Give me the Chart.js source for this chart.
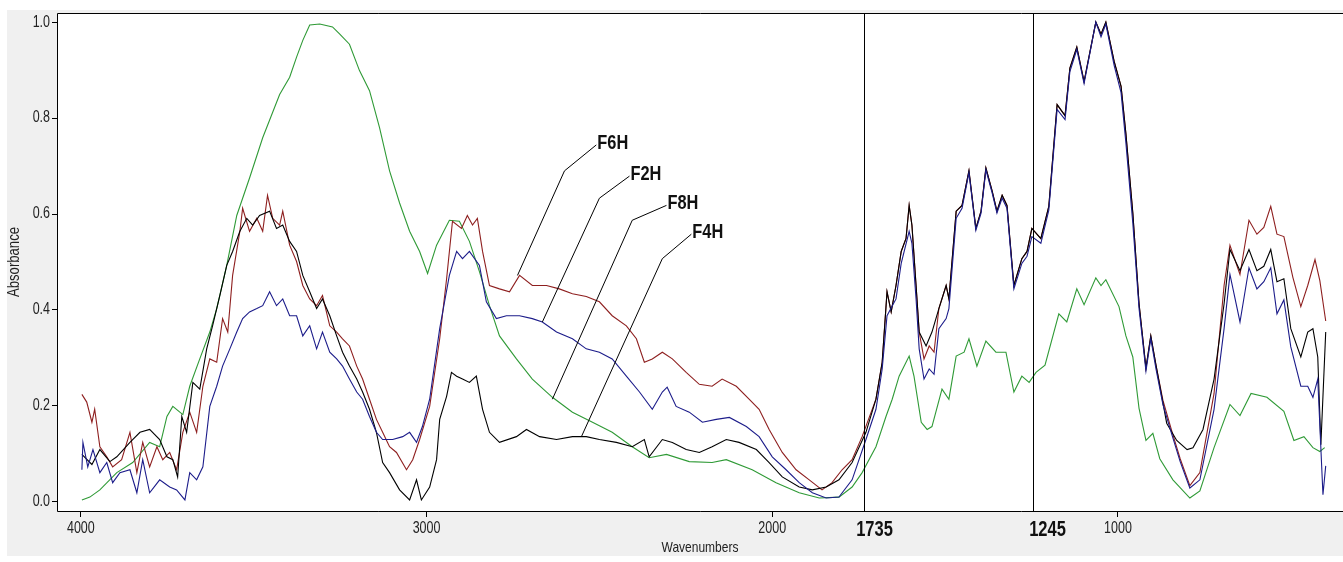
<!DOCTYPE html>
<html>
<head>
<meta charset="utf-8">
<title>FTIR spectra</title>
<script src="https://cdn.jsdelivr.net/npm/chart.js@4.4.1/dist/chart.umd.min.js"></script>
<style>
  html, body { margin: 0; padding: 0; background: #fff; }
  #wrap { width: 1343px; height: 562px; }
</style>
</head>
<body>
<div id="wrap"><canvas id="spectra" width="1343" height="562"></canvas></div>
<script>
// readings taken off the spectra: [wavenumber, absorbance]
var f2h = [[3997,0.067],[3994,0.124],[3980,0.073],[3965,0.109],[3945,0.061],[3925,0.082],[3908,0.040],[3887,0.061],[3858,0.067],[3838,0.019],[3821,0.088],[3801,0.019],[3772,0.046],[3743,0.031],[3723,0.025],[3699,0.004],[3685,0.061],[3665,0.046],[3647,0.073],[3627,0.199],[3607,0.241],[3590,0.283],[3569,0.319],[3549,0.354],[3532,0.382],[3512,0.396],[3491,0.403],[3474,0.409],[3454,0.438],[3434,0.409],[3416,0.423],[3396,0.388],[3376,0.388],[3358,0.346],[3338,0.367],[3318,0.319],[3301,0.354],[3280,0.312],[3260,0.298],[3243,0.283],[3223,0.256],[3202,0.229],[3185,0.214],[3165,0.178],[3145,0.145],[3127,0.130],[3098,0.130],[3069,0.136],[3049,0.145],[3029,0.124],[3012,0.157],[2991,0.214],[2962,0.361],[2934,0.472],[2913,0.522],[2896,0.507],[2876,0.522],[2847,0.493],[2827,0.417],[2798,0.382],[2769,0.388],[2731,0.388],[2694,0.382],[2665,0.375],[2624,0.354],[2578,0.340],[2538,0.319],[2500,0.312],[2463,0.298],[2422,0.262],[2384,0.229],[2347,0.193],[2318,0.229],[2304,0.239],[2278,0.199],[2240,0.187],[2202,0.166],[2162,0.172],[2124,0.176],[2075,0.157],[2038,0.136],[2000,0.094],[1960,0.067],[1922,0.040],[1884,0.019],[1844,0.008],[1807,0.010],[1769,0.046],[1729,0.130],[1700,0.193],[1682,0.277],[1668,0.388],[1642,0.423],[1627,0.497],[1604,0.564],[1596,0.539],[1584,0.423],[1575,0.319],[1561,0.256],[1546,0.277],[1532,0.266],[1518,0.361],[1497,0.382],[1489,0.403],[1468,0.591],[1451,0.612],[1431,0.686],[1411,0.566],[1396,0.602],[1382,0.692],[1364,0.644],[1350,0.602],[1335,0.633],[1321,0.612],[1301,0.444],[1278,0.497],[1263,0.512],[1249,0.553],[1223,0.539],[1200,0.608],[1176,0.818],[1153,0.797],[1139,0.897],[1119,0.943],[1098,0.872],[1064,1.000],[1049,0.969],[1035,0.996],[1011,0.910],[991,0.853],[977,0.748],[957,0.581],[939,0.403],[919,0.273],[905,0.340],[890,0.277],[870,0.203],[844,0.140],[820,0.084],[792,0.029],[763,0.046],[722,0.193],[693,0.361],[676,0.474],[647,0.375],[621,0.488],[598,0.444],[578,0.459],[558,0.488],[540,0.392],[520,0.421],[500,0.323],[471,0.241],[451,0.241],[436,0.218],[422,0.256],[407,0.015],[399,0.075]];

var f4h = [[3997,0.099],[3968,0.078],[3945,0.109],[3916,0.084],[3896,0.094],[3858,0.124],[3829,0.145],[3801,0.151],[3772,0.130],[3751,0.094],[3734,0.088],[3720,0.052],[3708,0.178],[3694,0.145],[3676,0.249],[3656,0.235],[3636,0.319],[3619,0.367],[3598,0.430],[3578,0.493],[3561,0.522],[3540,0.564],[3520,0.591],[3503,0.577],[3483,0.597],[3454,0.606],[3434,0.570],[3416,0.577],[3396,0.543],[3376,0.522],[3358,0.472],[3338,0.438],[3318,0.403],[3301,0.423],[3280,0.388],[3260,0.346],[3243,0.312],[3223,0.283],[3202,0.256],[3185,0.229],[3165,0.193],[3145,0.145],[3127,0.082],[3107,0.061],[3078,0.025],[3049,0.004],[3029,0.046],[3015,0.004],[2991,0.031],[2971,0.088],[2962,0.172],[2942,0.220],[2928,0.270],[2913,0.262],[2896,0.256],[2876,0.249],[2856,0.262],[2838,0.193],[2818,0.145],[2789,0.124],[2740,0.136],[2711,0.151],[2673,0.136],[2624,0.130],[2578,0.136],[2538,0.136],[2500,0.130],[2451,0.124],[2405,0.115],[2370,0.130],[2356,0.094],[2318,0.130],[2289,0.124],[2249,0.109],[2211,0.103],[2174,0.115],[2133,0.130],[2096,0.124],[2046,0.109],[2009,0.082],[1971,0.052],[1922,0.031],[1884,0.025],[1844,0.031],[1807,0.046],[1769,0.082],[1729,0.145],[1700,0.214],[1682,0.291],[1668,0.438],[1656,0.396],[1642,0.451],[1627,0.522],[1613,0.549],[1604,0.618],[1596,0.577],[1584,0.451],[1575,0.354],[1555,0.325],[1538,0.354],[1518,0.403],[1497,0.451],[1489,0.423],[1468,0.606],[1451,0.618],[1431,0.690],[1411,0.570],[1396,0.606],[1382,0.696],[1364,0.648],[1350,0.606],[1335,0.639],[1321,0.618],[1301,0.451],[1278,0.507],[1263,0.522],[1249,0.570],[1223,0.549],[1200,0.616],[1176,0.828],[1153,0.805],[1139,0.904],[1119,0.948],[1098,0.876],[1064,1.000],[1049,0.975],[1035,1.000],[1011,0.918],[991,0.866],[977,0.767],[957,0.602],[939,0.413],[919,0.279],[905,0.346],[890,0.285],[859,0.164],[830,0.128],[800,0.109],[783,0.113],[754,0.151],[722,0.256],[693,0.413],[676,0.526],[647,0.482],[621,0.526],[598,0.482],[578,0.491],[558,0.526],[540,0.459],[520,0.465],[500,0.361],[471,0.302],[451,0.354],[436,0.361],[422,0.302],[413,0.119],[399,0.354]];

var f6h = [[3997,0.224],[3983,0.208],[3968,0.166],[3960,0.193],[3945,0.115],[3925,0.094],[3908,0.073],[3882,0.088],[3858,0.145],[3838,0.061],[3821,0.124],[3801,0.073],[3780,0.115],[3763,0.088],[3743,0.103],[3723,0.067],[3705,0.145],[3685,0.187],[3665,0.145],[3647,0.241],[3627,0.298],[3607,0.291],[3590,0.382],[3575,0.354],[3561,0.472],[3540,0.564],[3532,0.612],[3512,0.564],[3491,0.591],[3474,0.564],[3460,0.639],[3445,0.591],[3425,0.577],[3416,0.606],[3396,0.535],[3376,0.501],[3358,0.451],[3338,0.423],[3318,0.409],[3301,0.430],[3280,0.367],[3260,0.354],[3243,0.340],[3223,0.325],[3202,0.283],[3185,0.256],[3165,0.214],[3145,0.172],[3127,0.145],[3107,0.115],[3087,0.103],[3058,0.067],[3040,0.088],[3020,0.130],[2991,0.199],[2962,0.340],[2942,0.465],[2925,0.585],[2899,0.570],[2882,0.597],[2867,0.577],[2853,0.591],[2838,0.522],[2818,0.451],[2789,0.444],[2760,0.438],[2731,0.472],[2694,0.451],[2653,0.451],[2616,0.444],[2578,0.434],[2538,0.428],[2500,0.417],[2463,0.388],[2422,0.367],[2393,0.340],[2370,0.291],[2347,0.298],[2318,0.312],[2289,0.298],[2249,0.270],[2211,0.245],[2174,0.241],[2145,0.256],[2104,0.241],[2067,0.214],[2038,0.193],[2009,0.151],[1971,0.103],[1931,0.067],[1893,0.046],[1856,0.025],[1827,0.040],[1798,0.067],[1769,0.088],[1740,0.136],[1700,0.214],[1682,0.291],[1668,0.438],[1656,0.396],[1642,0.451],[1627,0.522],[1613,0.549],[1604,0.618],[1596,0.577],[1584,0.451],[1575,0.354],[1561,0.298],[1546,0.325],[1532,0.312],[1518,0.403],[1497,0.451],[1489,0.423],[1468,0.606],[1451,0.618],[1431,0.690],[1411,0.570],[1396,0.606],[1382,0.696],[1364,0.648],[1350,0.606],[1335,0.639],[1321,0.618],[1301,0.451],[1278,0.507],[1263,0.522],[1249,0.570],[1223,0.549],[1200,0.616],[1176,0.828],[1153,0.805],[1139,0.904],[1119,0.948],[1098,0.876],[1064,1.000],[1049,0.975],[1035,1.000],[1011,0.918],[991,0.866],[977,0.767],[957,0.602],[939,0.413],[919,0.279],[905,0.346],[890,0.285],[870,0.212],[844,0.147],[820,0.090],[792,0.034],[763,0.061],[722,0.226],[693,0.451],[676,0.535],[647,0.474],[621,0.587],[598,0.558],[578,0.572],[558,0.616],[540,0.558],[520,0.553],[494,0.468],[471,0.407],[451,0.451],[430,0.505],[416,0.461],[399,0.377]];

var f8h = [[3997,0.004],[3974,0.010],[3945,0.025],[3896,0.061],[3850,0.082],[3801,0.124],[3772,0.115],[3751,0.178],[3734,0.199],[3705,0.182],[3685,0.241],[3656,0.298],[3627,0.354],[3607,0.403],[3578,0.493],[3549,0.597],[3512,0.675],[3474,0.759],[3425,0.849],[3396,0.885],[3376,0.927],[3358,0.962],[3338,0.994],[3309,0.996],[3272,0.990],[3251,0.975],[3223,0.954],[3194,0.899],[3165,0.857],[3136,0.780],[3107,0.690],[3078,0.623],[3049,0.564],[3020,0.522],[2997,0.476],[2971,0.535],[2934,0.587],[2905,0.585],[2876,0.543],[2847,0.480],[2818,0.409],[2789,0.346],[2740,0.298],[2694,0.256],[2636,0.218],[2578,0.187],[2520,0.166],[2463,0.145],[2405,0.115],[2356,0.092],[2306,0.099],[2240,0.084],[2174,0.082],[2133,0.088],[2058,0.067],[1989,0.040],[1922,0.019],[1864,0.008],[1807,0.010],[1769,0.031],[1740,0.061],[1700,0.115],[1671,0.178],[1653,0.214],[1633,0.262],[1604,0.304],[1590,0.262],[1569,0.166],[1552,0.151],[1538,0.157],[1509,0.235],[1489,0.214],[1468,0.304],[1445,0.312],[1431,0.340],[1408,0.283],[1382,0.335],[1353,0.312],[1324,0.312],[1301,0.229],[1278,0.262],[1257,0.249],[1237,0.270],[1211,0.285],[1171,0.392],[1148,0.375],[1119,0.444],[1098,0.411],[1064,0.467],[1049,0.451],[1035,0.463],[997,0.407],[977,0.346],[957,0.302],[939,0.195],[919,0.128],[899,0.143],[879,0.090],[841,0.046],[792,0.008],[763,0.023],[722,0.113],[676,0.203],[647,0.180],[615,0.226],[569,0.218],[520,0.189],[491,0.128],[462,0.136],[436,0.113],[416,0.105],[402,0.113]];

var wavenumberTicks = [4000, 3000, 2000, 1000];
var absorbanceTicks = [0, 0.2, 0.4, 0.6, 0.8, 1.0];
var markerBands = [1735, 1245];

// callout labels: text position, elbow and the point on the curve (data units)
var callouts = [
  { text: "F6H", at: [2509, 0.744], elbow: [2601, 0.690], target: [2737, 0.472] },
  { text: "F2H", at: [2413, 0.679], elbow: [2500, 0.633], target: [2665, 0.375] },
  { text: "F8H", at: [2306, 0.618], elbow: [2405, 0.587], target: [2636, 0.214] },
  { text: "F4H", at: [2234, 0.558], elbow: [2318, 0.507], target: [2552, 0.136] }
];

var family = '"Liberation Sans", Arial, sans-serif';

function toPoints(rows) {
  return rows.map(function(r) { return { x: r[0], y: r[1] }; });
}

// the original uses a narrow face, so squeeze regular text horizontally
function narrowText(c, text, x, y, size, bold, align, squeeze, angle) {
  c.save();
  c.translate(x, y);
  if (angle) c.rotate(angle);
  c.scale(squeeze, 1);
  c.font = (bold ? "bold " : "") + size + "px " + family;
  c.textAlign = align;
  c.textBaseline = "middle";
  c.fillText(text, 0, 0);
  c.restore();
}

var framePlugin = {
  id: "frame",
  beforeDraw: function(chart) {
    var c = chart.ctx, a = chart.chartArea;
    c.save();
    c.fillStyle = "#f0f0f0";
    c.fillRect(7, 10, chart.width - 7, 546);
    c.fillStyle = "#ffffff";
    c.fillRect(a.left, a.top, a.right - a.left, a.bottom - a.top);
    c.restore();
  },
  afterDraw: function(chart) {
    var c = chart.ctx, a = chart.chartArea;
    var xs = chart.scales.x, ys = chart.scales.y;
    c.save();
    c.strokeStyle = "#000";
    c.lineWidth = 1;

    // border: top, left, bottom
    c.beginPath();
    c.moveTo(chart.width, a.top + 0.5);
    c.lineTo(a.left + 0.5, a.top + 0.5);
    c.lineTo(a.left + 0.5, a.bottom + 0.5);
    c.lineTo(chart.width, a.bottom + 0.5);
    c.stroke();

    // tick labels and axis titles
    c.fillStyle = "#222";
    xs.ticks.forEach(function(t) {
      narrowText(c, String(t.value), xs.getPixelForValue(t.value), 529, 16, false, "center", 0.78);
    });
    ys.ticks.forEach(function(t) {
      narrowText(c, t.value.toFixed(1), 50, ys.getPixelForValue(t.value), 16, false, "right", 0.78);
    });
    narrowText(c, "Wavenumbers", (a.left + a.right) / 2 + 0, 548, 15, false, "center", 0.8);
    narrowText(c, "Absorbance", 15, (a.top + a.bottom) / 2, 16, false, "center", 0.82, -Math.PI / 2);

    // marker bands
    var shift = { 1735: 10, 1245: 14 };
    markerBands.forEach(function(m) {
      var px = Math.round(xs.getPixelForValue(m)) + 0.5;
      c.beginPath();
      c.moveTo(px, a.top);
      c.lineTo(px, a.bottom);
      c.stroke();
      c.fillStyle = "#111";
      narrowText(c, String(m), px + shift[m], 530, 22, true, "center", 0.75);
    });

    // callouts
    callouts.forEach(function(k) {
      var p0 = [xs.getPixelForValue(k.at[0]), ys.getPixelForValue(k.at[1])];
      var p1 = [xs.getPixelForValue(k.elbow[0]), ys.getPixelForValue(k.elbow[1])];
      var p2 = [xs.getPixelForValue(k.target[0]), ys.getPixelForValue(k.target[1])];
      c.beginPath();
      c.moveTo(p0[0], p0[1]);
      c.lineTo(p1[0], p1[1]);
      c.lineTo(p2[0], p2[1]);
      c.stroke();
      c.fillStyle = "#111";
      narrowText(c, k.text, p0[0] + 1, p0[1] - 2, 21, true, "left", 0.78);
    });
    c.restore();
  }
};

var series = [
  { label: "F2H", rows: f2h, color: "#1c1c8a" },
  { label: "F4H", rows: f4h, color: "#000000" },
  { label: "F6H", rows: f6h, color: "#8e1f1f" },
  { label: "F8H", rows: f8h, color: "#2f9a36" }
];

var chart = new Chart(document.getElementById("spectra"), {
  type: "line",
  data: {
    datasets: series.map(function(s) {
      return {
        label: s.label,
        data: toPoints(s.rows),
        borderColor: s.color,
        backgroundColor: s.color,
        borderWidth: 1.1,
        pointRadius: 0,
        tension: 0,
        fill: false
      };
    })
  },
  options: {
    responsive: false,
    animation: false,
    devicePixelRatio: 1,
    layout: { padding: { top: 13, left: 0, right: 0, bottom: 0 } },
    plugins: {
      legend: { display: false },
      tooltip: { enabled: false }
    },
    scales: {
      x: {
        type: "linear",
        reverse: true,
        min: 349,
        max: 4069,
        afterBuildTicks: function(s) {
          s.ticks = wavenumberTicks.map(function(v) { return { value: v }; });
        },
        afterFit: function(s) { s.height = 51; },
        grid: { drawOnChartArea: false, tickLength: 6, color: "#000" },
        border: { display: false },
        ticks: { display: false, autoSkip: false }
      },
      y: {
        min: -0.019,
        max: 1.019,
        afterBuildTicks: function(s) {
          s.ticks = absorbanceTicks.map(function(v) { return { value: v }; });
        },
        afterFit: function(s) { s.width = 57; },
        grid: { drawOnChartArea: false, tickLength: 5, color: "#000" },
        border: { display: false },
        ticks: { display: false }
      }
    }
  },
  plugins: [framePlugin]
});
</script>
</body>
</html>
